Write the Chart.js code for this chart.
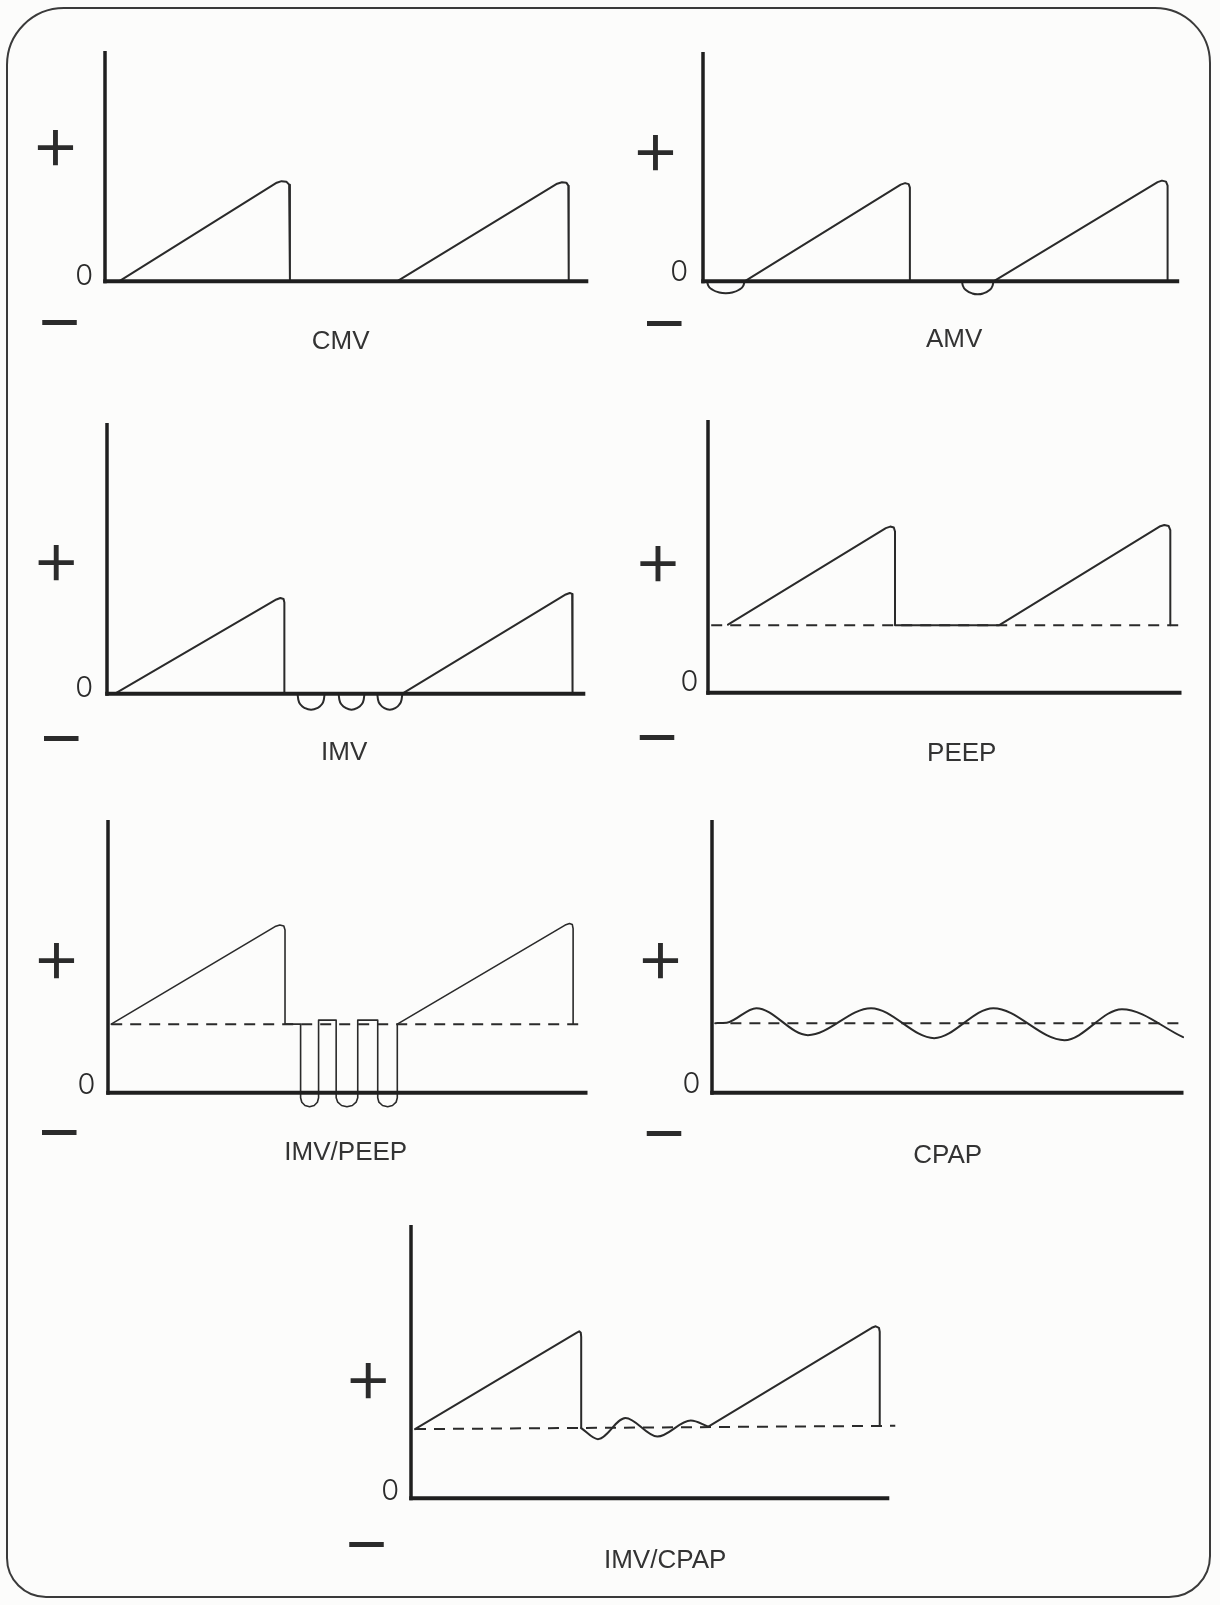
<!DOCTYPE html>
<html>
<head>
<meta charset="utf-8">
<script src="https://cdn.jsdelivr.net/npm/chart.js@4.4.1/dist/chart.umd.min.js"></script>
<style>
html,body{margin:0;padding:0;background:#fcfcfb;}
#page{position:relative;width:1220px;height:1605px;overflow:hidden;background:#fcfcfb;}
#frame{position:absolute;left:6px;top:7px;width:1201px;height:1587px;border:2px solid #3a3a3a;border-radius:58px 56px 42px 40px;}
canvas{position:absolute;}
</style>
</head>
<body>
<div id="page"><div id="frame"></div></div>
<script>
// ---------- DATA (time units on x, pressure units on y; y = 0 is the zero line) ----------
const CATEGORIES = ['CMV', 'AMV', 'IMV', 'PEEP', 'IMV/PEEP', 'CPAP', 'IMV/CPAP'];
const TICK_LABELS = ['+', '0', '\u2212'];

const CMV_TICKS      = [26.9, 0, -8.1];
const AMV_TICKS      = [26.1, 0, -8.3];
const IMV_TICKS      = [26.3, 0, -8.8];
const PEEP_TICKS     = [26.0, 0, -8.7];
const IMV_PEEP_TICKS = [26.7, 0, -7.8];
const CPAP_TICKS     = [26.7, 0, -8.0];
const IMV_CPAP_TICKS = [23.7, 0, -9.1];

const CMV_WAVE = [[0.35,0],[4.30,19.7],[4.42,20.0],[4.54,19.9],[4.61,19.3],[4.63,18.3],[4.63,0],[7.31,0],[11.32,19.5],[11.44,19.8],[11.55,19.7],[11.60,19.1],[11.61,18.1],[11.61,0]];

const AMV_BREATH_1 = [[1.04,0],[4.94,19.4],[5.05,19.7],[5.14,19.5],[5.17,18.8],[5.17,0],[6.47,0]];
const AMV_BREATH_2 = [[7.26,0],[11.36,19.9],[11.47,20.2],[11.57,20.0],[11.61,19.2],[11.61,0]];
const AMV_TRIGGER_1 = [[0.10,0],[0.128,-0.82],[0.238,-1.70],[0.409,-2.26],[0.57,-2.4],[0.731,-2.26],[0.902,-1.70],[1.012,-0.82],[1.04,0]];
const AMV_TRIGGER_2 = [[6.47,0],[6.494,-0.89],[6.586,-1.84],[6.730,-2.44],[6.865,-2.6],[7.000,-2.44],[7.144,-1.84],[7.236,-0.89],[7.26,0]];

const IMV_BREATHS = [[0.20,0],[4.25,18.8],[4.35,19.1],[4.43,18.9],[4.45,18.2],[4.45,0],[7.41,0],[11.51,19.8],[11.61,20.1],[11.67,19.9],[11.68,19.1],[11.68,0]];
const IMV_SPONT_1 = [[4.78,0],[4.80,-1.2],[4.86,-2.2],[4.97,-2.9],[5.12,-3.2],[5.27,-2.9],[5.38,-2.2],[5.44,-1.2],[5.46,0]];
const IMV_SPONT_2 = [[5.81,0],[5.83,-1.2],[5.89,-2.2],[6.00,-2.9],[6.135,-3.2],[6.27,-2.9],[6.38,-2.2],[6.44,-1.2],[6.46,0]];
const IMV_SPONT_3 = [[6.78,0],[6.80,-1.2],[6.86,-2.2],[6.96,-2.9],[7.095,-3.2],[7.23,-2.9],[7.33,-2.2],[7.39,-1.2],[7.41,0]];

const PEEP_BASELINE = [[0.08,13.5],[11.84,13.5]];
const PEEP_WAVE = [[0.50,13.6],[4.45,32.9],[4.56,33.2],[4.65,33.0],[4.68,32.2],[4.68,13.5],[7.29,13.5],[11.30,33.2],[11.42,33.5],[11.53,33.3],[11.57,32.5],[11.57,13.5]];

const IMV_PEEP_BASELINE = [[0.08,13.7],[11.94,13.7]];
const IMV_PEEP_WAVE = [[0.08,13.7],[4.18,33.2],[4.30,33.5],[4.40,33.3],[4.43,32.5],[4.43,13.7],[4.82,13.7],
  [4.82,-1.0],[4.85,-1.9],[4.93,-2.56],[5.045,-2.8],[5.16,-2.56],[5.24,-1.9],[5.27,-1.0],[5.27,14.5],[5.71,14.5],
  [5.71,-1.0],[5.75,-1.9],[5.845,-2.56],[5.98,-2.8],[6.115,-2.56],[6.21,-1.9],[6.25,-1.0],[6.25,14.5],[6.75,14.5],
  [6.75,-1.0],[6.78,-1.9],[6.87,-2.56],[7.0,-2.8],[7.12,-2.56],[7.21,-1.9],[7.24,-1.0],[7.24,13.7],
  [11.44,33.5],[11.55,33.8],[11.62,33.6],[11.64,32.8],[11.64,13.7]];

const CPAP_BASELINE = [[0.46,13.9],[11.80,13.9]];
const CPAP_WAVE = [[0.08,13.9],[0.37,14.0],[1.11,16.9],[2.40,11.5],[3.98,16.9],[5.56,10.9],[7.04,16.9],[8.82,10.5],[10.26,16.7],[11.79,11.1]];

const IMV_CPAP_BASELINE = [[0.10,13.8],[12.15,14.46]];
const IMV_CPAP_BREATH_1 = [[0.10,13.8],[4.15,33.0],[4.22,33.3],[4.26,33.0],[4.27,32.2],[4.27,14.0]];
const IMV_CPAP_SPONT = [[4.27,14.0],[4.69,11.8],[5.38,16.0],[6.18,12.3],[7.02,15.5],[7.46,14.3]];
const IMV_CPAP_BREATH_2 = [[7.46,14.3],[11.56,34.0],[11.66,34.3],[11.74,34.0],[11.76,33.2],[11.76,14.66]];

const X_MAX = [12.1, 11.9, 12.0, 11.85, 12.0, 11.8, 12.0];
const Y_MAX = [46, 46, 54, 54.5, 54.5, 54.5, 54.5];

// ---------- LAYOUT / STYLE ----------
const WAVE_INK = '#2a2a2a';
const AXIS_INK = '#1f1f1f';
const TEXT_INK = '#2b2b2b';
const SIGN_FONT = "300 78px Inter, 'Open Sans', 'Liberation Sans', sans-serif";
const ZERO_FONT = "300 29px Inter, 'Liberation Sans', Arial, sans-serif";
const TITLE_FONT = "26px 'Liberation Sans', Arial, sans-serif";

const PANELS = [
  { box:[104.7,50.7,588,281],    ticks:CMV_TICKS,      plusDx:-49.4, minusDx:-45.4, zeroDx:-20.7, zeroDy:-5,   titleDx:-6, titleDy:61,
    series:[['solid',CMV_WAVE]] },
  { box:[702.8,51.7,1179,281],   ticks:AMV_TICKS,      plusDx:-47.5, minusDx:-38.8, zeroDx:-23.8, zeroDy:-9,   titleDx:13, titleDy:59,
    series:[['solid',AMV_BREATH_1],['solid',AMV_BREATH_2],['curve',AMV_TRIGGER_1],['curve',AMV_TRIGGER_2]] },
  { box:[106.7,423.3,585,694],   ticks:IMV_TICKS,      plusDx:-50.7, minusDx:-45.7, zeroDx:-22.7, zeroDy:-5,   titleDx:-2, titleDy:59,
    series:[['solid',IMV_BREATHS],['curve',IMV_SPONT_1],['curve',IMV_SPONT_2],['curve',IMV_SPONT_3]] },
  { box:[707.5,420,1181,692.7],  ticks:PEEP_TICKS,     plusDx:-50,   minusDx:-51,   zeroDx:-18.5, zeroDy:-10.7, titleDx:17, titleDy:61,
    series:[['dash',PEEP_BASELINE],['solid',PEEP_WAVE]] },
  { box:[107.5,820,587,1092.7],  ticks:IMV_PEEP_TICKS, plusDx:-51.5, minusDx:-48.7, zeroDx:-21.5, zeroDy:-7.7, titleDx:-2, titleDy:60,
    series:[['dash',IMV_PEEP_BASELINE],['thin',IMV_PEEP_WAVE]] },
  { box:[711.5,820,1183,1092.7], ticks:CPAP_TICKS,     plusDx:-51.5, minusDx:-48,   zeroDx:-20.5, zeroDy:-8.7, titleDx:0,  titleDy:63,
    series:[['dash',CPAP_BASELINE],['curve',CPAP_WAVE]] },
  { box:[410.7,1225,889,1498.3], ticks:IMV_CPAP_TICKS, plusDx:-42.7, minusDx:-44.4, zeroDx:-20.7, zeroDy:-6.6, titleDx:15, titleDy:63,
    series:[['dash',IMV_CPAP_BASELINE],['solid',IMV_CPAP_BREATH_1],['curve',IMV_CPAP_SPONT],['solid',IMV_CPAP_BREATH_2]] }
];

function styleFor(kind) {
  const base = { borderColor: WAVE_INK, borderWidth: 2, pointRadius: 0, pointHoverRadius: 0, fill: false,
                 clip: false, tension: 0, capBezierPoints: false, borderJoinStyle: 'round', borderCapStyle: 'round' };
  if (kind === 'curve') return Object.assign(base, { cubicInterpolationMode: 'monotone' });
  if (kind === 'dash')  return Object.assign(base, { borderDash: [11, 8], borderCapStyle: 'butt', borderWidth: 2 });
  if (kind === 'thin')  return Object.assign(base, { borderWidth: 1.6 });
  return base;
}

function makeDecor(p, name) {
  return {
    id: 'panelDecor',
    afterDatasetsDraw(chart) {
      const { ctx, scales: { x, y } } = chart;
      const x0 = x.getPixelForValue(0), x1 = x.getPixelForValue(x.max);
      const y0 = y.getPixelForValue(0), yTop = y.getPixelForValue(y.max);
      ctx.save();
      ctx.strokeStyle = AXIS_INK;
      ctx.lineCap = 'butt';
      ctx.lineWidth = 3.5;
      ctx.beginPath(); ctx.moveTo(x0, yTop); ctx.lineTo(x0, y0 + 2); ctx.stroke();
      ctx.lineWidth = 4;
      ctx.beginPath(); ctx.moveTo(x0 - 1.75, y0); ctx.lineTo(x1, y0); ctx.stroke();

      ctx.fillStyle = TEXT_INK;
      ctx.textAlign = 'center';
      ctx.textBaseline = 'middle';
      const [vPlus, vZero, vMinus] = p.ticks;
      ctx.font = SIGN_FONT;
      ctx.fillText(TICK_LABELS[0], x0 + p.plusDx, y.getPixelForValue(vPlus));
      ctx.fillText(TICK_LABELS[2], x0 + p.minusDx, y.getPixelForValue(vMinus));
      ctx.font = ZERO_FONT;
      ctx.fillText(TICK_LABELS[1], x0 + p.zeroDx, y.getPixelForValue(vZero) + p.zeroDy);
      ctx.font = TITLE_FONT;
      ctx.fillStyle = '#333333';
      ctx.fillText(name, (x0 + x1) / 2 + p.titleDx, y0 + p.titleDy);
      ctx.restore();
    }
  };
}

const page = document.getElementById('page');
PANELS.forEach((p, i) => {
  const [L, T, R, B] = p.box;
  const PADL = 80, PADT = 12, PADR = 30, PADB = 90;
  const w = Math.round(R - L + PADL + PADR);
  const h = Math.round(B - T + PADT + PADB);
  const c = document.createElement('canvas');
  c.width = w; c.height = h;
  c.style.left = (L - PADL) + 'px';
  c.style.top = (T - PADT) + 'px';
  c.style.width = w + 'px';
  c.style.height = h + 'px';
  page.appendChild(c);
  new Chart(c, {
    type: 'line',
    data: {
      datasets: p.series.map(([kind, arr]) => Object.assign({
        label: CATEGORIES[i],
        data: arr.map(([x, y]) => ({ x, y }))
      }, styleFor(kind)))
    },
    options: {
      responsive: false,
      animation: false,
      events: [],
      layout: { padding: { left: PADL, top: PADT, right: w - (R - L) - PADL, bottom: h - (B - T) - PADT } },
      scales: {
        x: { type: 'linear', min: 0, max: X_MAX[i], display: false },
        y: { type: 'linear', min: 0, max: Y_MAX[i], display: false }
      },
      plugins: { legend: { display: false }, tooltip: { enabled: false }, title: { display: false } }
    },
    plugins: [makeDecor(p, CATEGORIES[i])]
  });
});
</script>
</body>
</html>
